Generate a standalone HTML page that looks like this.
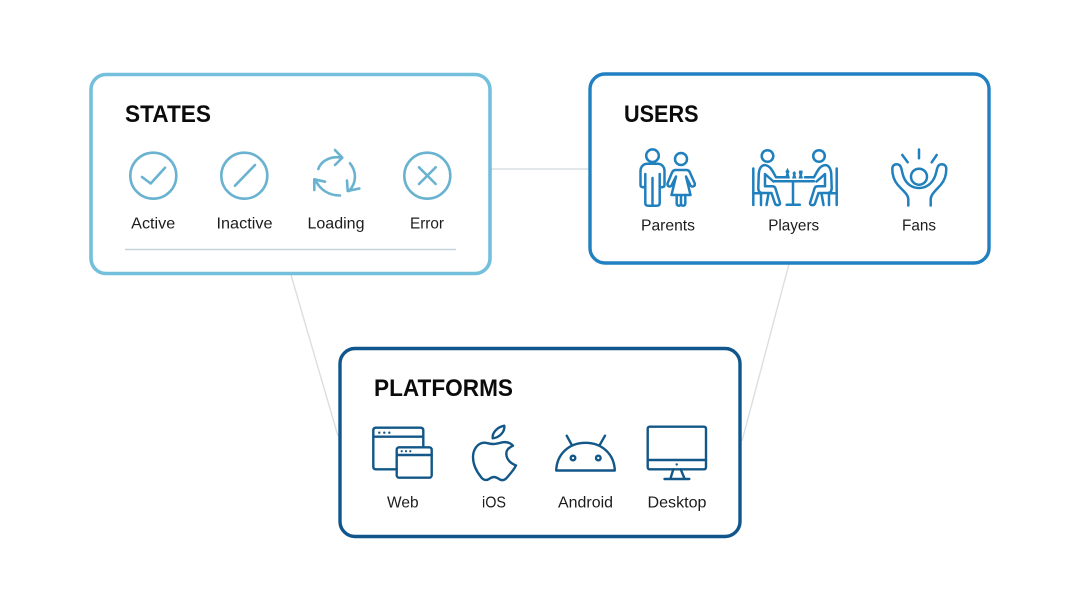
<!DOCTYPE html>
<html lang="en">
<head>
<meta charset="utf-8">
<title>States, Users, Platforms</title>
<style>
html,body{margin:0;padding:0;background:#fff;width:1080px;height:602px;overflow:hidden}
svg{display:block;filter:blur(0.35px)}
text{font-family:"Liberation Sans",sans-serif;fill:#151515}
.t{font-size:24px;font-weight:700;fill:#0b0b0b}
.l{font-size:16px;text-anchor:middle;fill:#1c1c1c}
.i{fill:none;stroke-linecap:round;stroke-linejoin:round}
</style>
</head>
<body>
<svg width="1080" height="602" viewBox="0 0 1080 602" xmlns="http://www.w3.org/2000/svg">
<rect width="1080" height="602" fill="#fff"/>
<g stroke="#d9dfe2" stroke-width="1.400" fill="none">
<path d="M491 169H589"/>
<path d="M291 275L338 436"/>
<path d="M789 264L742 441"/>
</g>

<rect x="91" y="74.500" width="399" height="199" rx="15" fill="#fff" stroke="#74bfdb" stroke-width="3.600"/>
<rect x="590" y="74" width="399" height="189" rx="15" fill="#fff" stroke="#2080c2" stroke-width="3.400"/>
<rect x="340" y="348.500" width="400" height="188" rx="15" fill="#fff" stroke="#10568c" stroke-width="3.400"/>

<text class="t" x="125" y="122" textLength="86" lengthAdjust="spacingAndGlyphs">STATES</text>
<text class="t" x="624" y="122" textLength="74.500" lengthAdjust="spacingAndGlyphs">USERS</text>
<text class="t" x="374" y="396" textLength="139" lengthAdjust="spacingAndGlyphs">PLATFORMS</text>

<!-- States icons -->
<g class="i" stroke="#6ab3d0" stroke-width="2.600">
<circle cx="153.300" cy="175.700" r="23"/>
<path d="M142 177L150.700 183.500L165 167.700"/>
<circle cx="244.300" cy="175.700" r="23"/>
<path d="M235 185.700L255 165"/>
<circle cx="427.300" cy="175.700" r="23"/>
<path d="M419 167.300L435.700 184M435.700 167.300L419 184"/>
<path d="M318.300 169C321 161 330 156 341.500 157.500"/>
<path d="M335 150L342.300 157.700L335 165"/>
<path d="M350 163.300C357 172 356.500 183 349 191"/>
<path d="M347 180.500L347.700 191L359.300 188.500"/>
<path d="M340 195.500C329 195.500 320.500 190 315.500 180.500"/>
<path d="M325 181.700L314.300 179.300L314.300 190"/>
</g>
<path d="M125 249.500H456" stroke="#c6d4d9" stroke-width="1.400"/>
<text class="l" x="153.200" y="228.300" textLength="44" lengthAdjust="spacingAndGlyphs">Active</text>
<text class="l" x="244.500" y="228.300" textLength="56" lengthAdjust="spacingAndGlyphs">Inactive</text>
<text class="l" x="336" y="228.300" textLength="57" lengthAdjust="spacingAndGlyphs">Loading</text>
<text class="l" x="427" y="228.300" textLength="34" lengthAdjust="spacingAndGlyphs">Error</text>

<!-- Users icons -->
<g class="i" stroke="#2080bd" stroke-width="2.500">
<circle cx="652.500" cy="155.700" r="6.300"/>
<path d="M645.300 186V174M659.700 186V174M652.500 178V205.500M645.300 183V203C645.300 205 646.500 205.800 648.500 205.800H656.500C658.500 205.800 659.700 205 659.700 203V183"/>
<path d="M645.300 186C644.500 188 640.500 187.500 640.500 185V171C640.500 166.500 643.500 163.800 647.500 163.800H657.500C661.500 163.800 664.500 166.500 664.500 171V185C664.500 187.500 660.500 188 659.700 186"/>
<circle cx="681" cy="159" r="6"/>
<path d="M675.500 170H686.500C689 170 690 172 691 175L694.800 183.500C695.500 186.500 691.500 187.500 690.500 185.500L686 176.500L690.500 195H671.500L676 176.500L671.500 185.500C670.500 187.500 667 186.500 667.500 183.500L671 175C672 172 673 170 675.500 170Z"/>
<path d="M676.700 195V203.500C676.700 206.500 681 206.500 681 203.500V196V203.500C681 206.500 685.300 206.500 685.300 203.500V195"/>

<circle cx="767.500" cy="156" r="5.800"/>
<circle cx="819" cy="156" r="5.800"/>
<path d="M753.300 168.500V205M836.700 168.500V205"/>
<path d="M785 177.300H776C773 172 771 166.500 766 165.300C762 164.500 759.500 167.500 758.800 173.300L758.300 188C758.300 191.500 760 193 762.500 193H771.500L775 203.500C776 206 780.500 205.500 780 203L775.500 188.500C775 187 774 186.300 772.500 186.300H765L765 174L773.500 181.500"/>
<path d="M805 177.300H814C817 172 819 166.500 824 165.300C828 164.500 830.500 167.500 831.200 173.300L831.700 188C831.700 191.500 830 193 827.500 193H818.500L815 203.500C814 206 809.500 205.500 810 203L814.500 188.500C815 187 816 186.300 817.500 186.300H825L825 174L816.500 181.500"/>
<path d="M774 181.300H814M793 181.300V204.300M786.700 204.800H799.800"/>
<path d="M753.300 193.300H761V205M836.700 193.300H829V205M768.500 193.500L766.500 205M821.500 193.500L823.500 205"/>

<circle cx="919" cy="176.700" r="8"/>
<path d="M919 149.500V158.300M902.300 155L907.700 162.300M936.700 155L931.700 162.300"/>
<path d="M908.300 205.500V199.500C908.300 194 902 190 897.500 184.500C893.800 180 892.300 174 892.300 169C892.300 166 894 164.300 896.700 164.300C899.500 164.300 900.800 166 901.500 169C902.800 175 904 181 909.500 185C915 189 923 189 928.500 185C934 181 935.800 175 937 169C937.700 166 939 164.300 941.700 164.300C944.500 164.300 946.300 166 946.300 169C946.300 174 944.800 180 941 184.500C936.500 190 930.700 194 930.700 199.500V205.500"/>
</g>
<g fill="#2080bd">
<path d="M785 178.500H790L788.700 173.500L789.600 171.500L788.500 170L787.500 167.700L786.500 170L785.400 171.500L786.300 173.500Z"/>
<path d="M792 178.500H796.500L795.400 175L796 173L794.300 171L792.500 173L793.100 175Z"/>
<path d="M798.500 178.500H803L802 175L802.700 172.500L802.300 170.500H799.200L798.800 172.500L799.500 175Z"/>
</g>
<text class="l" x="668" y="230.500" textLength="54" lengthAdjust="spacingAndGlyphs">Parents</text>
<text class="l" x="793.700" y="230.500" textLength="51" lengthAdjust="spacingAndGlyphs">Players</text>
<text class="l" x="919" y="230.500" textLength="34" lengthAdjust="spacingAndGlyphs">Fans</text>

<!-- Platforms icons -->
<g class="i" stroke="#125788" stroke-width="2.400">
<path d="M396.700 469.300H376C374.300 469.300 373.300 468.300 373.300 466.500V430.500C373.300 428.700 374.300 427.700 376 427.700H420.500C422.300 427.700 423.300 428.700 423.300 430.500V447.300"/>
<path d="M373.300 436.700H423.300"/>
<rect x="396.700" y="447.300" width="35" height="30.400" rx="2.500"/>
<path d="M396.700 455H431.700"/>
<path d="M493.300 444C489 444 487 442.500 483.500 442.700C477 443.500 473 450 473 457C473 465 477 472 481 477C483 480 486 480.500 488 479.500C490 478.500 491.500 477 494 477C496.500 477 498 478.500 500 479.500C503 481 505.500 479.500 507.500 477C511 473 514 469.500 516 465.500C510 463 506.300 459 506.300 453.500C506.300 450 509 447.500 513 445.700C510.500 443 507 441.800 503.500 442.200C500 442.700 497 444 493.300 444Z"/>
<path d="M492.700 438.300C492 432.500 497.500 427 504.300 425.700C505 431.500 500 437.500 492.700 438.300Z"/>
<path d="M556.200 470.500C556.800 454 569 442.800 585.500 442.800C602 442.800 614.200 454 614.800 470.500Z"/>
<path d="M566.700 435.700L571.700 444.800M605 435.700L599.800 444.800"/>
<circle cx="573" cy="458" r="2.300"/>
<circle cx="598.300" cy="458" r="2.300"/>
<rect x="647.700" y="426.700" width="58.300" height="42.600" rx="2"/>
<path d="M647.700 460H706M673.300 469.300L670.500 478.500M680.700 469.300L684.500 478.500M664.500 479H689.300"/>
</g>
<g fill="#125788">
<circle cx="379.300" cy="432.700" r="1.200"/><circle cx="384.300" cy="432.700" r="1.200"/><circle cx="389.300" cy="432.700" r="1.200"/>
<circle cx="401.700" cy="451.200" r="1.100"/><circle cx="406" cy="451.200" r="1.100"/><circle cx="410.300" cy="451.200" r="1.100"/>
<circle cx="676.700" cy="464.400" r="1.200"/>
</g>
<text class="l" x="402.800" y="507.300" textLength="31.500" lengthAdjust="spacingAndGlyphs">Web</text>
<text class="l" x="494" y="507.300" textLength="24" lengthAdjust="spacingAndGlyphs">iOS</text>
<text class="l" x="585.500" y="507.300" textLength="55" lengthAdjust="spacingAndGlyphs">Android</text>
<text class="l" x="677" y="507.300" textLength="59" lengthAdjust="spacingAndGlyphs">Desktop</text>
</svg>
</body>
</html>
